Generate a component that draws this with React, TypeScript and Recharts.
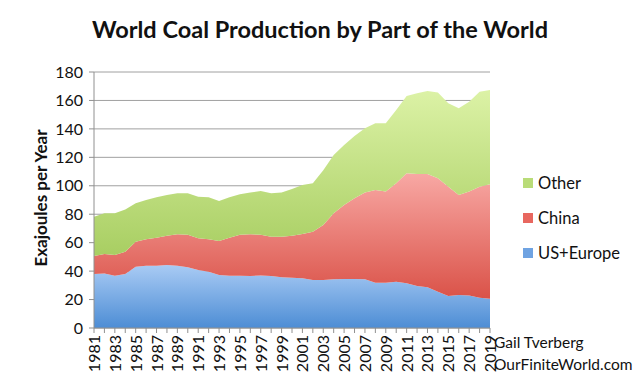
import React from 'react';
import { AreaChart, Area, XAxis, YAxis, CartesianGrid } from 'recharts';

const years = [
  1981, 1982, 1983, 1984, 1985, 1986, 1987, 1988, 1989, 1990,
  1991, 1992, 1993, 1994, 1995, 1996, 1997, 1998, 1999, 2000,
  2001, 2002, 2003, 2004, 2005, 2006, 2007, 2008, 2009, 2010,
  2011, 2012, 2013, 2014, 2015, 2016, 2017, 2018, 2019,
];

const usEurope = [
  38, 38.4, 36.8, 38, 43.1, 43.8, 43.8, 44.3, 43.8, 42.7,
  40.8, 39.6, 37.3, 36.8, 36.8, 36.6, 37, 36.6, 35.6, 35.3,
  34.9, 33.8, 33.8, 34.2, 34.4, 34.4, 34.2, 31.9, 31.9, 32.6,
  31.4, 29.5, 28.6, 25.5, 22.5, 23.2, 22.8, 21.3, 20.5,
];

const china = [
  12.6, 13.6, 14.5, 15.7, 17.6, 18.6, 19.7, 20.6, 22.1, 22.8,
  22.3, 22.8, 23.9, 26.7, 28.7, 29.3, 28.5, 27.6, 28.6, 29.5,
  31.2, 33.9, 38.6, 46.4, 52.1, 56.8, 61.0, 65.1, 64.0, 69.1,
  77.4, 78.8, 79.7, 79.8, 76.9, 70.3, 73.1, 78.1, 80.5,
];

const other = [
  27.7, 28.6, 29.3, 29.7, 27.0, 27.6, 28.4, 28.6, 28.8, 29.2,
  29.2, 29.6, 28.1, 28.4, 28.5, 29.3, 30.8, 30.5, 31.0, 33.0,
  34.4, 34.0, 38.6, 41.0, 42.2, 43.8, 45.2, 46.9, 48.0, 51.6,
  54.3, 56.7, 58.4, 60.2, 58.6, 61.0, 63.2, 66.8, 66.4,
];

const yTicks = [0, 20, 40, 60, 80, 100, 120, 140, 160, 180];

const data = years.map((year, i) => ({
  year,
  usEurope: usEurope[i],
  china: china[i],
  other: other[i],
}));

const font = 'Lato, "Open Sans", sans-serif';

const legendItems = [
  { label: 'Other', color: '#b9dc78' },
  { label: 'China', color: '#e8675f' },
  { label: 'US+Europe', color: '#6fa3e2' },
];

const YearTick = (props: any) => {
  const { x, y, payload } = props;
  if (payload.value % 2 === 0) return <g />;
  return (
    <text
      x={x}
      y={y}
      transform={`rotate(-90 ${x} ${y})`}
      textAnchor="end"
      dy={6}
      fontSize={16}
      fontFamily={font}
      fill="#111"
    >
      {payload.value}
    </text>
  );
};

export default function App() {
  return (
    <div style={{ position: 'absolute', left: 0, top: 0, width: 640, height: 386, background: '#fff', fontFamily: font }}>
      <div style={{ position: 'absolute', left: 0, width: 640, top: 15, textAlign: 'center', fontSize: 23.5, fontWeight: 700, color: '#111' }}>
        World Coal Production by Part of the World
      </div>
      <div
        style={{
          position: 'absolute',
          left: 40,
          top: 198,
          transform: 'translate(-50%, -50%) rotate(-90deg)',
          whiteSpace: 'nowrap',
          fontSize: 17,
          fontWeight: 700,
          color: '#111',
        }}
      >
        Exajoules per Year
      </div>

      <AreaChart width={640} height={386} data={data} margin={{ top: 72, right: 150, bottom: 0, left: 0 }}>
        <defs>
          <linearGradient id="gBlue" x1="0" y1="0" x2="0" y2="1">
            <stop offset="0%" stopColor="#a9cbf4" />
            <stop offset="100%" stopColor="#4d8dd5" />
          </linearGradient>
          <linearGradient id="gRed" x1="0" y1="0" x2="0" y2="1">
            <stop offset="0%" stopColor="#f8a8a4" />
            <stop offset="100%" stopColor="#da5248" />
          </linearGradient>
          <linearGradient id="gGreen" x1="0" y1="0" x2="0" y2="1">
            <stop offset="0%" stopColor="#dcf2a6" />
            <stop offset="100%" stopColor="#a8ce62" />
          </linearGradient>
        </defs>
        <CartesianGrid vertical={false} stroke="#a0a0a0" strokeWidth={1} />
        <XAxis
          dataKey="year"
          interval={0}
          height={58}
          tick={<YearTick />}
          tickSize={5}
          tickMargin={2}
          stroke="#909090"
        />
        <YAxis
          domain={[0, 180]}
          ticks={yTicks}
          width={94}
          tickSize={5}
          tickMargin={6}
          stroke="#909090"
          tick={{ fill: '#111', fontSize: 16, fontFamily: font }}
        />
        <Area type="linear" dataKey="usEurope" stackId="a" stroke="none" fill="url(#gBlue)" fillOpacity={1} isAnimationActive={false} />
        <Area type="linear" dataKey="china" stackId="a" stroke="none" fill="url(#gRed)" fillOpacity={1} isAnimationActive={false} />
        <Area type="linear" dataKey="other" stackId="a" stroke="none" fill="url(#gGreen)" fillOpacity={1} isAnimationActive={false} />
      </AreaChart>

      {legendItems.map((item, i) => (
        <div key={item.label} style={{ position: 'absolute', left: 523, top: 173 + i * 35, display: 'flex', alignItems: 'center', fontSize: 16.5, color: '#111' }}>
          <span style={{ display: 'inline-block', width: 10, height: 10, background: item.color, marginRight: 5 }} />
          {item.label}
        </div>
      ))}

      <div style={{ position: 'absolute', left: 494, top: 331, fontSize: 15.5, lineHeight: '22px', color: '#111' }}>
        Gail Tverberg
        <br />
        OurFiniteWorld.com
      </div>
    </div>
  );
}
